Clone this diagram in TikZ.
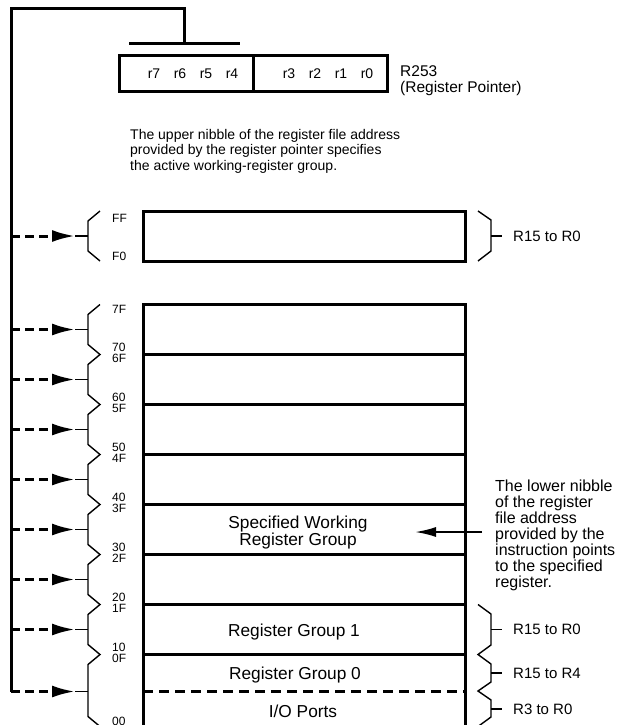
\documentclass[tikz,border=0pt]{standalone}
\usepackage{fontspec}
\setmainfont{Liberation Sans}
\usetikzlibrary{positioning,arrows.meta}
\tikzset{>=latex}

\begin{document}
\begin{tikzpicture}[x=1pt, y=-1pt,
            regbox/.style={rectangle, draw, line width=3pt, minimum width=134pt, minimum height=35pt, inner sep=0pt, outer sep=0pt},
            filebox/.style={rectangle, draw, line width=3pt, minimum width=322pt, minimum height=50pt, inner sep=0pt, outer sep=0pt},
            boxtext/.style={inner sep=0pt, align=center, font=\fontsize{17.3}{17}\selectfont},
            bitlbl/.style={inner sep=0pt, font=\fontsize{14}{16}\selectfont},
            hexlbl/.style={anchor=west, inner sep=0pt, font=\fontsize{12}{12}\selectfont},
            note/.style={anchor=west, align=left, inner sep=0pt, font=\fontsize{15}{16}\selectfont},
            brace/.style={line width=1.4pt, line join=miter},
            ptrpath/.style={line width=3pt, line join=miter},
            dasharrow/.style={line width=3pt, dash pattern=on 9pt off 5pt, -{Latex[length=23pt,width=12pt]}},
            seppath/.style={line width=3pt, dash pattern=on 10pt off 6pt},
            lowarrow/.style={line width=2pt, -{Latex[length=21pt,width=10pt]}}
        ]
        \useasboundingbox (0,0) rectangle (628,725);
        \clip (0,0) rectangle (628,725);
        \node[regbox] (ptrhi) at (186,73.5) {};
        \node[regbox, right=0pt of ptrhi] (ptrlo) {};
        \foreach \b [count=\i from 0] in {7,6,5,4}
            \node[bitlbl] (bit\b) at (154+26*\i,74) {r\b};
        \foreach \b [count=\i from 0] in {3,2,1,0}
            \node[bitlbl] (bit\b) at (289+26*\i,74) {r\b};
        \node[note, font=\fontsize{15.5}{15.5}\selectfont] (ptrname) at (400,80.5) {R253\\(Register Pointer)};
        \coordinate (barl) at (129,44);
        \coordinate (barr) at (240,44);
        \coordinate (barmid) at (184,44);
        \coordinate (bustop) at (11,9);
        \coordinate (busend) at (11,691.5);
        \draw[ptrpath] (barl) -- (barr);
        \draw[ptrpath] (barmid) |- (bustop) -- (busend);
        \node[note, font=\fontsize{14}{15.5}\selectfont] (uppernote) at (130,151) {The upper nibble of the register file address\\provided by the register pointer specifies\\the active working-register group.};
        \node[filebox] (bankF) at (304,236) {};
        \node[filebox] (grp7) at (304,329.5) {};
        \node[filebox, below=0pt of grp7] (grp6) {};
        \node[filebox, below=0pt of grp6] (grp5) {};
        \node[filebox, below=0pt of grp5] (grp4) {};
        \node[filebox, below=0pt of grp4] (grp3) {};
        \node[filebox, below=0pt of grp3] (grp2) {};
        \node[filebox, below=0pt of grp2] (grp1) {};
        \node[filebox, minimum height=72pt, below=0pt of grp1] (grp0) {};
        \node[boxtext] (grp3lbl) at (298,533) {Specified Working\\Register Group};
        \node[boxtext] (grp1lbl) at (294,632) {Register Group 1};
        \node[boxtext] (grp0lbl) at (295,675) {Register Group 0};
        \node[boxtext] (iolbl) at (303,711) {I/O Ports};
        \coordinate (sepl) at (143,691);
        \coordinate (sepr) at (465,691);
        \draw[seppath] (sepl) -- (sepr);
        \draw[brace] (100,211) -- (88,221) -- (88,251) -- (100,261);
        \draw[brace] (100,304.5) \foreach \b in {354.5,404.5,...,654.5} { -- (88,\b-40) -- (88,\b-10) -- (100,\b) } -- (88,664.5) -- (88,716.5) -- (100,726.5);
        \node[hexlbl] (hexFF) at (112,218) {FF};
        \node[hexlbl] (hexF0) at (112,256) {F0};
        \node[hexlbl] (hex7F) at (112,309) {7F};
        \foreach \b/\hi/\lo in {354.5/70/6F, 404.5/60/5F, 454.5/50/4F, 504.5/40/3F, 554.5/30/2F, 604.5/20/1F, 654.5/10/0F} {
            \node[hexlbl] (hex\hi) at (112,\b-7) {\hi};
            \node[hexlbl] (hex\lo) at (112,\b+4) {\lo};
        }
        \node[hexlbl] (hex00) at (112,721) {00};
        \foreach \y [count=\i] in {236,329.5,379.5,429.5,479.5,529.5,579.5,629.5,691.5} {
            \coordinate (bus\i) at (11,\y);
            \coordinate (tip\i) at (75,\y);
            \coordinate (stem\i) at (88,\y);
            \draw[dasharrow] (bus\i) -- (tip\i);
            \draw[brace] (tip\i) -- (stem\i);
        }
        \draw[brace] (478,211) -- (491,220) -- (491,251) -- (478,261);
        \draw[brace] (478,604.5) -- (491,614) -- (491,645) -- (478,654.5) -- (491,664) -- (491,682) -- (478,691) -- (491,700) -- (491,717) -- (478,726.5);
        \foreach \y/\txt [count=\i] in {236/R15 to R0, 629.5/R15 to R0, 673/R15 to R4, 709/R3 to R0} {
            \coordinate (rstem\i) at (491,\y);
            \node[note] (rng\i) at (513,\y) {\txt};
            \draw[brace] (rstem\i) -- ([xshift=-11pt]rng\i.west);
        }
        \node[note, font=\fontsize{16}{16}\selectfont] (lownote) at (495,535) {The lower nibble\\of the register\\file address\\provided by the\\instruction points\\to the specified\\register.};
        \coordinate (lowstart) at (482,532);
        \coordinate (lowtip) at (415,532);
        \draw[lowarrow] (lowstart) -- (lowtip);
\end{tikzpicture}
\end{document}
